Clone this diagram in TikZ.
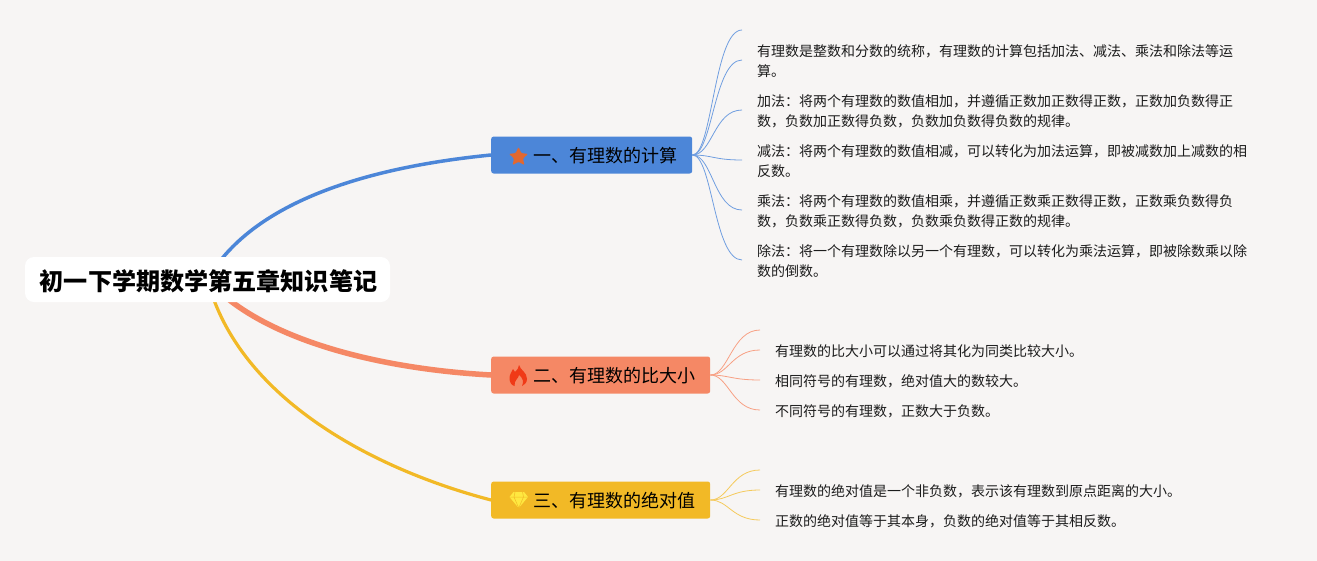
\documentclass[tikz,border=0pt]{standalone}
\usepackage{fontspec}
\setmainfont{Noto Sans CJK SC}
\usetikzlibrary{backgrounds,calc}
\definecolor{bgc}{HTML}{F7F5F4}
\definecolor{blueb}{HTML}{4C86D8}
\definecolor{orangeb}{HTML}{F58865}
\definecolor{yellowb}{HTML}{F2B926}
\definecolor{ink}{HTML}{1C1C1C}
\definecolor{staric}{HTML}{E26830}
\definecolor{fireic}{HTML}{F03A17}
\definecolor{gemic}{HTML}{FFE840}
\tikzset{
  rootbox/.style={fill=white,rounded corners=9pt,inner sep=0pt,minimum width=365pt,minimum height=45pt,text height=23pt,text depth=0.6pt,text=black,font=\fontsize{24.1pt}{30pt}\selectfont\bfseries},
  topicbox/.style={rounded corners=2.5pt,inner ysep=0pt,inner xsep=15pt,minimum height=37pt,text height=16pt,text depth=0.4pt,anchor=west,text=black,font=\fontsize{18pt}{22pt}\selectfont},
  leaf/.style={anchor=west,inner sep=0pt,align=left,text=ink,font=\fontsize{14pt}{20pt}\selectfont},
  mainlink/.style={line cap=round},
  sublink/.style={line width=0.8pt},
}
\begin{document}
\begin{tikzpicture}[x=1pt,y=-1pt]
\useasboundingbox (0,0) rectangle (1317,560);
\node[rootbox] (root) at (207.5,279.5) {\hspace*{2pt}初一下学期数学第五章知识笔记};
\node[topicbox,fill=blueb] (t1) at (491,155) {\hspace*{27pt}一、有理数的计算};
\node[topicbox,fill=orangeb] (t2) at (491,375) {\hspace*{27pt}二、有理数的比大小};
\node[topicbox,fill=yellowb] (t3) at (491,500) {\hspace*{27pt}三、有理数的绝对值};

\node[leaf] (a1) at (757,61) {有理数是整数和分数的统称，有理数的计算包括加法、减法、乘法和除法等运\\算。};
\node[leaf] (a2) at (757,111) {加法：将两个有理数的数值相加，并遵循正数加正数得正数，正数加负数得正\\数，负数加正数得负数，负数加负数得负数的规律。};
\node[leaf] (a3) at (757,161) {减法：将两个有理数的数值相减，可以转化为加法运算，即被减数加上减数的相\\反数。};
\node[leaf] (a4) at (757,211) {乘法：将两个有理数的数值相乘，并遵循正数乘正数得正数，正数乘负数得负\\数，负数乘正数得负数，负数乘负数得正数的规律。};
\node[leaf] (a5) at (757,261) {除法：将一个有理数除以另一个有理数，可以转化为乘法运算，即被除数乘以除\\数的倒数。};
\node[leaf] (b1) at (775,351) {有理数的比大小可以通过将其化为同类比较大小。};
\node[leaf] (b2) at (775,381) {相同符号的有理数，绝对值大的数较大。};
\node[leaf] (b3) at (775,411) {不同符号的有理数，正数大于负数。};
\node[leaf] (c1) at (775,491) {有理数的绝对值是一个非负数，表示该有理数到原点距离的大小。};
\node[leaf] (c2) at (775,521) {正数的绝对值等于其本身，负数的绝对值等于其相反数。};

% free ends of the thin branches
\coordinate (e0) at (742,30);
\coordinate (e1) at (742,60);
\coordinate (e2) at (742,110);
\coordinate (e3) at (742,160);
\coordinate (e4) at (742,210);
\coordinate (e5) at (742,260);
\coordinate (f1) at (760,330);
\coordinate (f2) at (760,350);
\coordinate (f3) at (760,380);
\coordinate (f4) at (760,410);
\coordinate (g1) at (760,470);
\coordinate (g2) at (760,490);
\coordinate (g3) at (760,520);

\begin{pgfonlayer}{background}
\fill[bgc] (-5,-5) rectangle (1322,565);
\draw[mainlink,blueb,line width=3.5pt] (root.center) .. controls +(43,-75) and +(-131,13) .. (t1.west);
\draw[mainlink,orangeb,line width=5.5pt] (root.center) .. controls +(48,55) and +(-126,-7) .. (t2.west);
\draw[mainlink,yellowb,line width=3.2pt] (root.center) .. controls +(31,120) and +(-115,-30) .. (t3.west);
\foreach \e in {e0,e1,e2,e3,e4,e5}
  \draw[sublink,blueb!80!white] (t1.east) .. controls +(20,0) and ($(\e)+(-28,0)$) .. (\e);
\foreach \e in {f1,f2,f3,f4}
  \draw[sublink,orangeb!80!white] (t2.east) .. controls +(18,0) and ($(\e)+(-28,0)$) .. (\e);
\foreach \e in {g1,g2,g3}
  \draw[sublink,yellowb!75!white] (t3.east) .. controls +(18,0) and ($(\e)+(-28,0)$) .. (\e);
\end{pgfonlayer}

% star icon
\fill[staric,rounded corners=1pt]
  (518.5,147) -- (521.3,153.1) -- (528,153.9) -- (523,158.5) -- (524.4,165.1) -- (518.5,161.8)
  -- (512.6,165.1) -- (514,158.5) -- (509,153.9) -- (515.7,153.1) -- cycle;
% flame icon
\fill[fireic]
  (519,365) .. controls (520,370) and (527,372) .. (527,379)
  .. controls (527,383) and (524,385) .. (522,386)
  .. controls (524,382) and (523,378) .. (519,375)
  .. controls (519,378) and (514,380) .. (514.5,386)
  .. controls (511,385) and (509.5,382) .. (509.5,378)
  .. controls (509.5,374) and (512,372) .. (513,369)
  .. controls (514,370) and (514.5,371) .. (515,372)
  .. controls (517,370) and (519,368) .. (519,365) -- cycle;
% diamond icon
\fill[gemic]
  (513.5,492) -- (524,492) -- (528,497) -- (518.7,508) -- (509.5,497) -- cycle;
\draw[yellowb,line width=0.5pt] (509.5,497) -- (528,497)
  (515,492) -- (514,497) -- (518.7,508) -- (523.5,497) -- (522.5,492);
\end{tikzpicture}
\end{document}
